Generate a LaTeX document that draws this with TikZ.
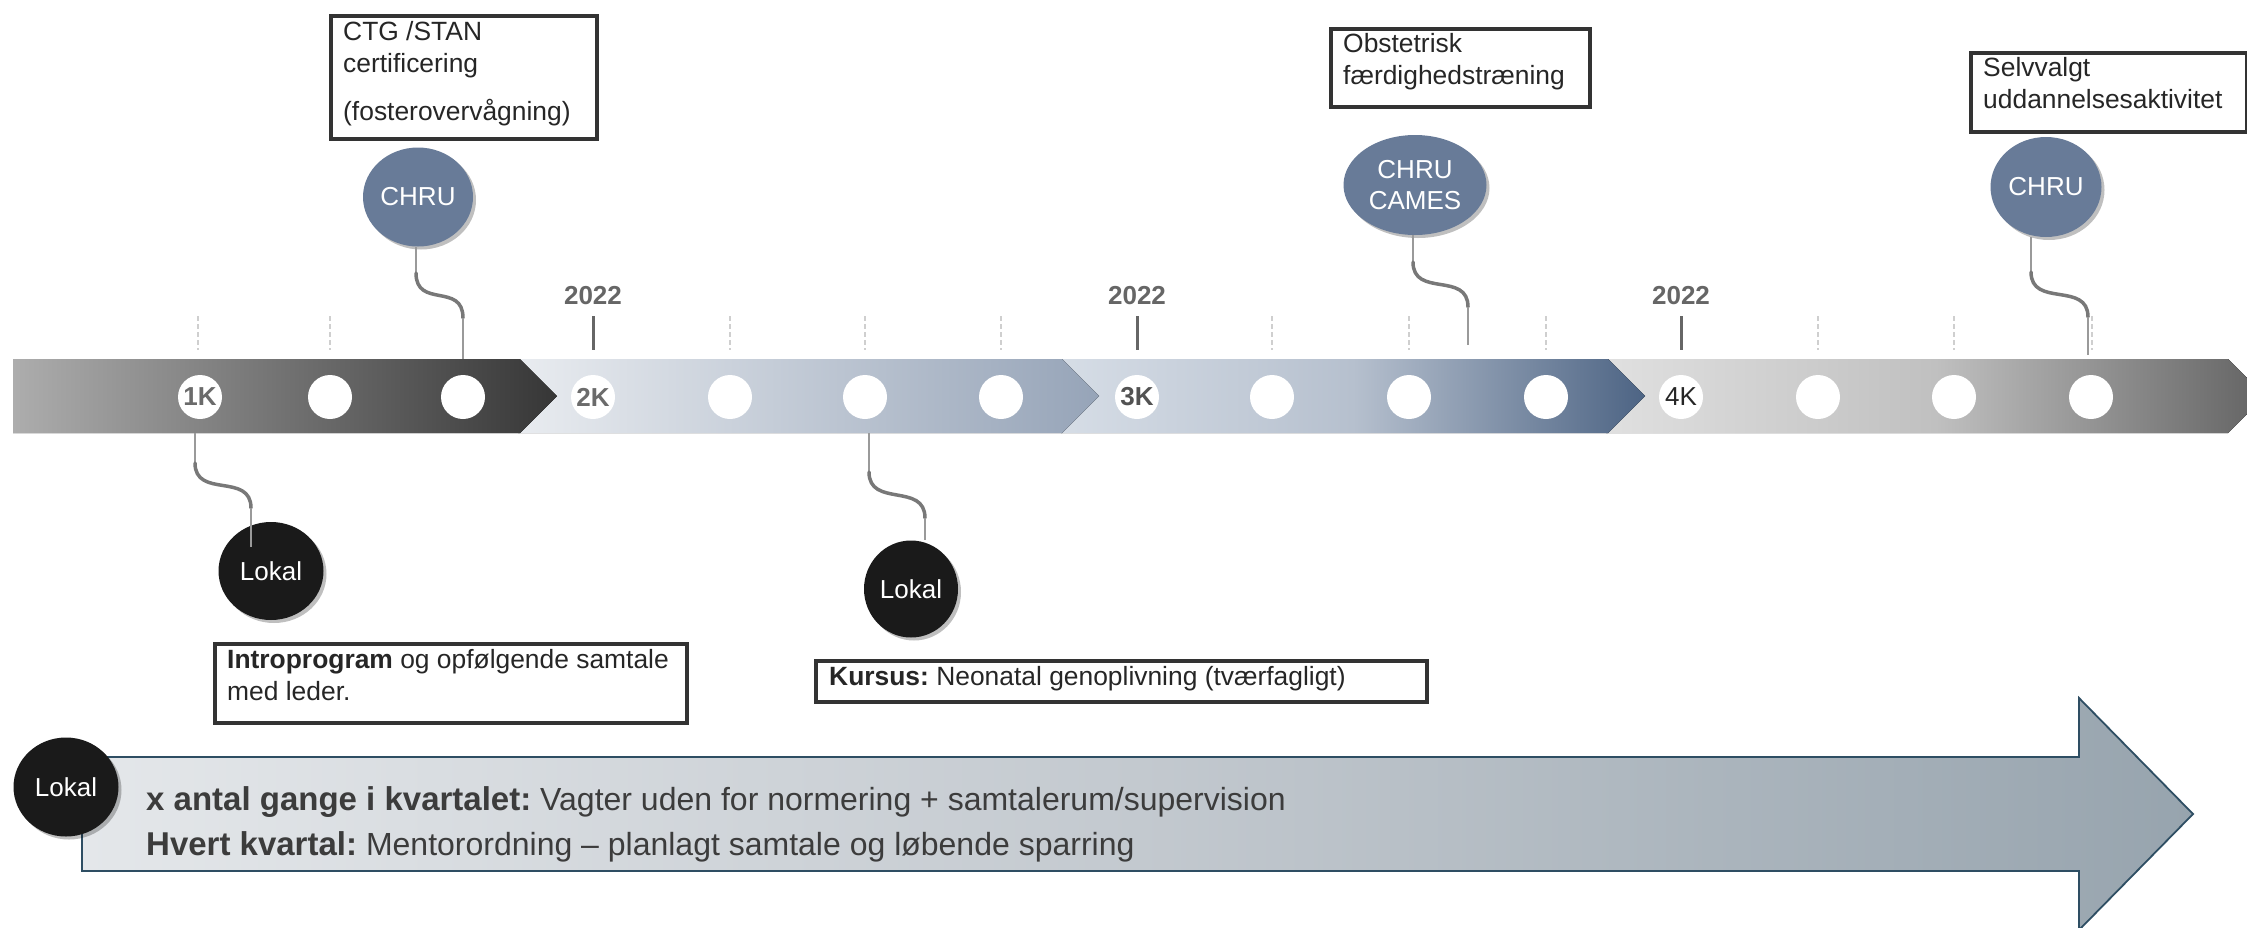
\documentclass[tikz,border=0pt]{standalone}
\usepackage{fontspec}
\setmainfont{Liberation Sans}
\frenchspacing
\usetikzlibrary{shadows,shapes.geometric}
\definecolor{chruc}{HTML}{687B98}
\definecolor{lokalc}{HTML}{1A1A1A}
\definecolor{boxedge}{HTML}{333333}
\definecolor{txtc}{HTML}{262626}
\definecolor{yearc}{HTML}{666666}
\definecolor{dashc}{HTML}{CFCFCF}
\definecolor{thinconn}{HTML}{9A9A9A}
\definecolor{thickconn}{HTML}{787878}
\definecolor{arrowedge}{HTML}{2E4E63}
\definecolor{arrowL}{HTML}{E4E7EA}
\definecolor{arrowM}{HTML}{C3C9CF}
\definecolor{arrowR}{HTML}{97A4AE}
\definecolor{sOneL}{HTML}{ADADAD}
\definecolor{sOneR}{HTML}{363636}
\definecolor{sTwoL}{HTML}{E9ECF0}
\definecolor{sTwoR}{HTML}{96A4B8}
\definecolor{sThreeL}{HTML}{D6DDE6}
\definecolor{sThreeM}{HTML}{B6C0CE}
\definecolor{sThreeR}{HTML}{4D6484}
\definecolor{sFourL}{HTML}{E0E0E0}
\definecolor{sFourM}{HTML}{C0C0C0}
\definecolor{sFourR}{HTML}{636363}
\definecolor{klbl}{HTML}{6B6B6B}
\newcommand\myfs[1]{\fontsize{#1}{#1}\selectfont}
\newcommand\bigbold[1]{{\fontsize{33}{33}\selectfont\bfseries #1}}
\begin{document}
\begin{tikzpicture}[x=1pt,y=-1pt,
  wcirc/.style={circle, fill=white, minimum size=44, inner sep=0pt, font=\myfs{26}\bfseries, text=klbl},
  softshadow/.style={drop shadow={shadow xshift=3pt, shadow yshift=-3pt, opacity=0.25, fill=black}},
  chrunode/.style={ellipse, fill=chruc, inner sep=0pt, text=white, font=\fontsize{26}{31}\selectfont, align=center, softshadow},
  lokalnode/.style={ellipse, fill=lokalc, inner sep=0pt, text=white, font=\myfs{26}, softshadow},
  dashtick/.style={draw=dashc, line width=1.5, dash pattern=on 5pt off 3pt},
  yeartick/.style={draw=yearc, line width=3},
  yearlbl/.style={anchor=base, inner sep=0pt, text=yearc, font=\myfs{26}\bfseries},
  thinc/.style={draw=thinconn, line width=1.5},
  thickc/.style={draw=thickconn, line width=3.5, line cap=round},
  boxline/.style={draw=boxedge, line width=4, fill=white},
  boxtxt/.style={anchor=base west, inner sep=0pt, text=txtc, font=\myfs{26.4}},
  bigtxt/.style={anchor=base west, inner sep=0pt, text=txtc!90, font=\myfs{32}}
]
\useasboundingbox (0,0) rectangle (2247,927);

% ---- timeline band (drawn right to left so tips overlap) ----
\fill[left color=sFourL, right color=sFourR, middle color=sFourM]
  (1606,359) -- (2228,359) -- (2265,396) -- (2228,433) -- (1606,433) -- cycle;
\fill[left color=sThreeL, right color=sThreeR, middle color=sThreeM]
  (1061,359) -- (1608,359) -- (1645,396) -- (1608,433) -- (1061,433) -- cycle;
\fill[left color=sTwoL, right color=sTwoR]
  (518,359) -- (1062,359) -- (1099,396) -- (1062,433) -- (518,433) -- cycle;
\fill[left color=sOneL, right color=sOneR]
  (13,359) -- (520,359) -- (557,396) -- (520,433) -- (13,433) -- cycle;

% ---- ticks above band ----
\foreach \x in {198,330,463,730,865,1001,1272,1409,1546,1818,1954,2092}
  \draw[dashtick] (\x,316) -- (\x,350);
\foreach \x/\n in {593/ya,1137/yb,1681/yc}{
  \draw[yeartick] (\x,316) -- (\x,350);
  \node[yearlbl] (\n) at (\x,304) {2022};
}

% ---- circles on band ----
\node[wcirc] (m1) at (200,397) {1K};
\node[wcirc] (m2) at (330,397) {};
\node[wcirc] (m3) at (463,397) {};
\node[wcirc] (m4) at (593,397) {2K};
\node[wcirc] (m5) at (730,397) {};
\node[wcirc] (m6) at (865,397) {};
\node[wcirc] (m7) at (1001,397) {};
\node[wcirc, text=black!68] (m8) at (1137,397) {3K};
\node[wcirc] (m9) at (1272,397) {};
\node[wcirc] (m10) at (1409,397) {};
\node[wcirc] (m11) at (1546,397) {};
\node[wcirc, font=\myfs{26}, text=txtc] (m12) at (1681,397) {4K};
\node[wcirc] (m13) at (1818,397) {};
\node[wcirc] (m14) at (1954,397) {};
\node[wcirc] (m15) at (2091,397) {};

% ---- top boxes ----
\node[boxline, anchor=north west, minimum width=266, minimum height=123, inner sep=0pt] (ctgbox) at (329,14) {};
\node[boxtxt] (ctg1) at (343,40) {CTG /STAN};
\node[boxtxt] (ctg2) at (343,72) {certificering};
\node[boxtxt] (ctg3) at (343,120) {(fosterovervågning)};

\node[boxline, anchor=north west, minimum width=259, minimum height=78, inner sep=0pt] (obsbox) at (1329,27) {};
\node[boxtxt] (obs1) at (1343,52) {Obstetrisk};
\node[boxtxt] (obs2) at (1343,84) {færdighedstræning};

\node[boxline, anchor=north west, minimum width=276, minimum height=79, inner sep=0pt] (selbox) at (1969,51) {};
\node[boxtxt] (sel1) at (1983,76) {Selvvalgt};
\node[boxtxt] (sel2) at (1983,108) {uddannelsesaktivitet};

% ---- top CHRU circles ----
\node[chrunode, minimum width=110, minimum height=99] (chru1) at (418,197) {CHRU};
\node[chrunode, minimum width=143, minimum height=100] (chru2) at (1415,185) {CHRU\\CAMES};
\node[chrunode, minimum width=111, minimum height=100] (chru3) at (2046,187) {CHRU};

% ---- bottom boxes ----
\node[boxline, anchor=north west, minimum width=472, minimum height=79, inner sep=0pt] (introbox) at (213,642) {};
\node[boxtxt] (intro1) at (227,668) {\textbf{Introprogram} og opfølgende samtale};
\node[boxtxt] (intro2) at (227,700) {med leder.};

\node[boxline, anchor=north west, minimum width=611, minimum height=41, inner sep=0pt] (kursbox) at (814,659) {};
\node[boxtxt] (kurs1) at (829,685) {\textbf{Kursus:} Neonatal genoplivning (tværfagligt)};

% ---- Lokal circles ----
\node[lokalnode, minimum width=105, minimum height=98] (lok1) at (271,571) {Lokal};
\node[lokalnode, minimum width=94, minimum height=97] (lok2) at (911,589) {Lokal};

% ---- connectors ----
\coordinate (c1top) at (416,247); \coordinate (c1a) at (416,273);
\coordinate (c1b) at (463,318);   \coordinate (c1bot) at (463,359);
\coordinate (c2top) at (1413,235); \coordinate (c2a) at (1413,262);
\coordinate (c2b) at (1468,307);   \coordinate (c2bot) at (1468,345);
\coordinate (c3top) at (2031,237); \coordinate (c3a) at (2031,272);
\coordinate (c3b) at (2088,317);   \coordinate (c3bot) at (2088,355);
\coordinate (b1top) at (195,433); \coordinate (b1a) at (195,463);
\coordinate (b1b) at (251,508);   \coordinate (b1bot) at (251,547);
\coordinate (b2top) at (869,433); \coordinate (b2a) at (869,472);
\coordinate (b2b) at (925,518);   \coordinate (b2bot) at (925,540);
\foreach \c in {c1,c2,c3,b1,b2}{
  \draw[thinc] (\c top) -- (\c a);
  \draw[thickc] (\c a) .. controls +(0,36) and +(0,-36) .. (\c b);
  \draw[thinc] (\c b) -- (\c bot);
}

% ---- big bottom arrow ----
\draw[draw=arrowedge, line width=1.8, left color=arrowL, right color=arrowR, middle color=arrowM]
  (82,757) -- (2079,757) -- (2079,698) -- (2193,814) -- (2079,930) -- (2079,871) -- (82,871) -- cycle;
\node[bigtxt] (big1) at (146,810) {\bigbold{x antal gange i kvartalet:} Vagter uden for normering + samtalerum/supervision};
\node[bigtxt] (big2) at (146,855) {\bigbold{Hvert kvartal:} Mentorordning – planlagt samtale og løbende sparring};
\node[lokalnode, minimum width=105, minimum height=99] (lok3) at (66,787) {Lokal};
\end{tikzpicture}
\end{document}
